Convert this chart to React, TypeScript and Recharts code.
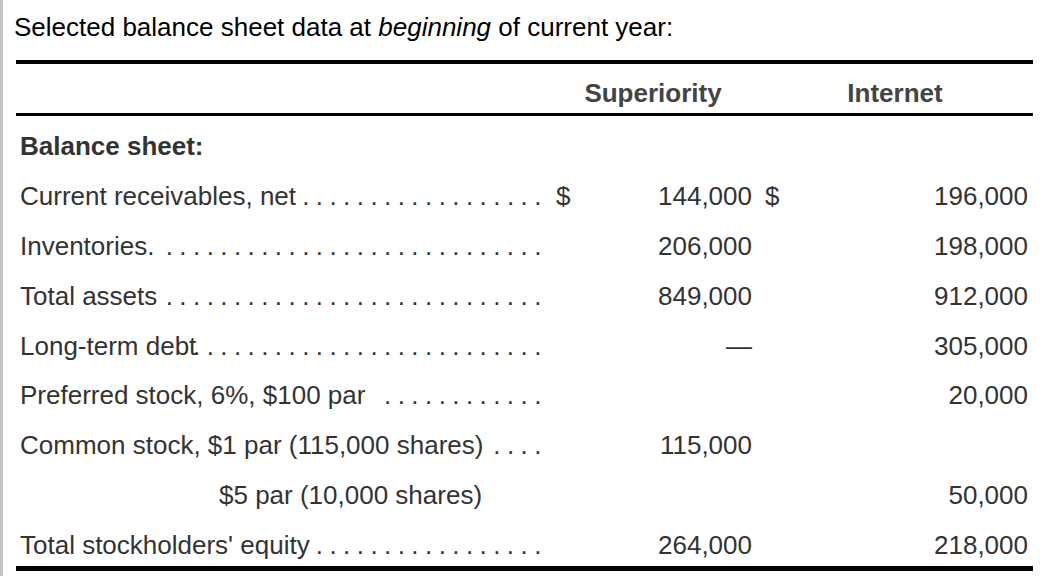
import { ComposedChart, XAxis, YAxis, Bar, Customized } from 'recharts'

const rowLabels = [
  'Balance sheet:',
  'Current receivables, net',
  'Inventories.',
  'Total assets',
  'Long-term debt',
  'Preferred stock, 6%, $100 par',
  'Common stock, $1 par (115,000 shares)',
  '$5 par (10,000 shares)',
  "Total stockholders' equity",
]

const superiority: (number | string | null)[] = [null, 144000, 206000, 849000, '—', null, 115000, null, 264000]
const internet: (number | null)[] = [null, 196000, 198000, 912000, 305000, 20000, null, 50000, 218000]
const dollarRows = [false, true, false, false, false, false, false, false, false]
const leaderDots = [0, 18, 28, 28, 26, 12, 4, 0, 17]
const columns = ['Superiority', 'Internet']

const FONT = '"Liberation Sans", Arial, Helvetica, sans-serif'
const TEXT = '#333'

const data = rowLabels.map((label, i) => ({ label, zero: 0, i }))

const fmt = (v: number | string | null) => (v == null ? '' : typeof v === 'number' ? v.toLocaleString('en-US') : v)

function RowTick(props: any) {
  const { y, payload, index } = props
  const i = payload?.index ?? index ?? rowLabels.indexOf(payload?.value)
  const base = y + 9
  const isHeading = i === 0
  const labelX = rowLabels[i].startsWith('$5') ? 219 : 20
  const dots = Array.from({ length: leaderDots[i] }, () => '.').join(' ')
  return (
    <g fontFamily={FONT} fontSize={26} fill={TEXT}>
      <text x={labelX} y={base} fontWeight={isHeading ? 700 : 400}>{rowLabels[i]}</text>
      {dots && <text x={541} y={base} textAnchor="end" letterSpacing={-0.4}>{dots}</text>}
      {dollarRows[i] && <text x={556} y={base}>$</text>}
      <text x={752} y={base} textAnchor="end">{fmt(superiority[i])}</text>
      {dollarRows[i] && <text x={765} y={base}>$</text>}
      <text x={1028} y={base} textAnchor="end">{fmt(internet[i])}</text>
    </g>
  )
}

function Decor() {
  return (
    <g fontFamily={FONT} fontSize={26}>
      <rect x={0} y={0} width={3} height={576} fill="#c4c4c4" />
      <text x={14} y={36} fill="#000">
        {'Selected balance sheet data at '}
        <tspan fontStyle="italic">beginning</tspan>
        {' of current year:'}
      </text>
      <rect x={16} y={60} width={1017} height={4} fill="#000" />
      <text x={653} y={102} textAnchor="middle" fontWeight={700} fill="#444">{columns[0]}</text>
      <text x={895} y={102} textAnchor="middle" fontWeight={700} fill="#444">{columns[1]}</text>
      <rect x={16} y={113} width={1017} height={3} fill="#000" />
      <rect x={16} y={566} width={1017} height={5} fill="#000" />
    </g>
  )
}

export default function App() {
  return (
    <div style={{ width: 1046, height: 576, background: '#fff' }}>
      <style>{'body{margin:0}'}</style>
      <ComposedChart
        width={1046}
        height={576}
        data={data}
        layout="vertical"
        margin={{ top: 121, right: 0, bottom: 6, left: 0 }}
      >
        <XAxis type="number" hide domain={[0, 1]} />
        <YAxis
          type="category"
          dataKey="label"
          width={2}
          axisLine={false}
          tickLine={false}
          interval={0}
          tick={(p: any) => <RowTick {...p} />}
        />
        <Bar dataKey="zero" fill="none" isAnimationActive={false} />
        <Customized component={<Decor />} />
      </ComposedChart>
    </div>
  )
}
